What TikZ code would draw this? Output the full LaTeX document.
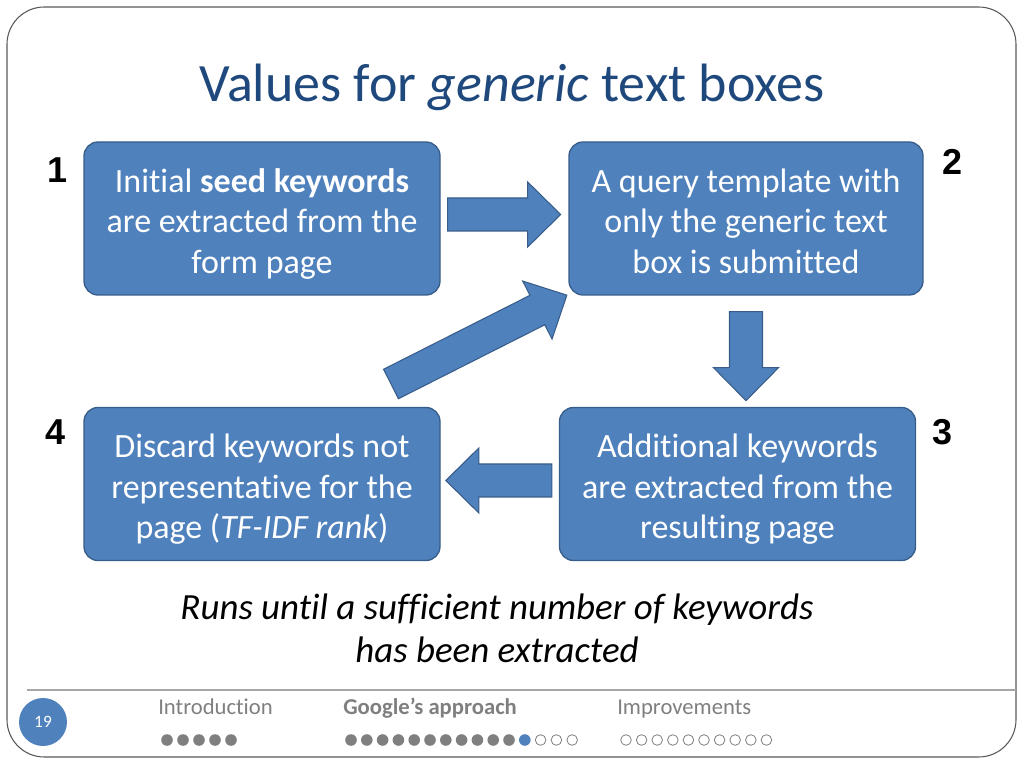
\documentclass[tikz,border=0pt]{standalone}
\usepackage{fontspec}
\setmainfont[Ligatures={NoCommon,NoContextual}]{Carlito}
\newfontfamily\numfont{Liberation Sans}
\usepackage{tikz}
\usetikzlibrary{calc}
\definecolor{blue500}{HTML}{4F81BD}
\definecolor{blue700}{HTML}{385D8A}
\definecolor{navy700}{HTML}{1F497D}
\definecolor{grey700}{HTML}{595959}
\definecolor{grey500}{HTML}{7F7F7F}
\definecolor{grey400}{HTML}{A6A6A6}
\tikzset{
  box/.style  ={draw=blue700, line width=1pt, fill=blue500,
                rounded corners=10.5pt, minimum width=267pt,
                minimum height=114.75pt, align=center, inner sep=0pt,
                text=white, font=\fontsize{25.5}{30.4}\selectfont,
                text height=88.5pt, text depth=6.5pt},
  num/.style  ={font=\numfont\bfseries\fontsize{27}{30}\selectfont,
                inner sep=0pt},
  ttl/.style  ={font=\fontsize{40.5}{46}\selectfont, text=navy700},
  note/.style ={font=\itshape\fontsize{27.7}{32.5}\selectfont, align=center},
  foot/.style ={font=\fontsize{17}{20}\selectfont, text=grey500,
                anchor=base west, inner sep=0pt},
  footb/.style={foot, font=\bfseries\fontsize{17}{20}\selectfont},
  pics/barrow/.style={code={
    \filldraw[draw=blue700, line width=0.8pt, fill=blue500]
      (0,-16.5) -- (#1-33,-16.5) -- (#1-33,-32.5) -- (#1,0)
      -- (#1-33,32.5) -- (#1-33,16.5) -- (0,16.5) -- cycle;}}
}

\begin{document}
\begin{tikzpicture}[x=0.75pt, y=0.75pt]
\useasboundingbox (0,0) rectangle (1024,768);
% slide frame and footer rule
\draw[grey700, line width=0.8pt, rounded corners=28pt] (7,11) rectangle (1016,761);
\draw[grey400, line width=0.8pt] (27,78) -- (1016,78);

\node[ttl] (title) at (512,681) {Values for \textit{generic} text boxes};

% the four steps, clockwise
\node[box] (seed) at (262,549.5)
  {Initial \textbf{seed keywords}\\ are extracted from the\\ form page};
\node[box, minimum width=265.5pt] (query) at (746,549.5)
  {A query template with\\ only the generic text\\ box is submitted};
\node[box] (extra) at (737.5,284)
  {Additional keywords\\ are extracted from the\\ resulting page};
\node[box] (discard) at (262,284)
  {Discard keywords not\\ representative for the\\ page (\textit{TF-IDF rank})};

\node[num] (n1) at (58,598) {1};
\node[num] (n2) at (952,606) {2};
\node[num] (n3) at (942,336) {3};
\node[num] (n4) at (56,336) {4};

% block arrows sit in the gaps between the boxes
\pic at ($(seed.east)+(7,4)$) {barrow=113};
\pic[rotate=-90] at ($(query.south)+(0,-16)$) {barrow=89};
\pic[rotate=180] at ($(extra.west)+(-7,3.5)$) {barrow=106};
\pic[rotate=26.8] at (391,384) {barrow=197};

\node[note] (loop) at (497,139.5)
  {Runs until a sufficient number of keywords\\ has been extracted};

% footer
\node[circle, fill=blue500, minimum size=36pt, inner sep=0pt, text=white,
      font=\fontsize{13}{15}\selectfont] (page) at (43,46) {19};
\node[foot]  (intro)  at (158,54) {Introduction};
\node[footb] (google) at (343,54) {Google’s approach};
\node[foot]  (impr)   at (617,54) {Improvements};
\foreach \i in {0,...,4} \fill[grey500] (167+16*\i,28) circle (5.8);
\foreach \i in {0,...,10} \fill[grey500] (351+15.8*\i,28) circle (5.8);
\fill[blue500] (351+15.8*11,28) circle (5.8);
\foreach \i in {12,13,14} \draw[grey500, line width=0.6pt] (351+15.8*\i,28) circle (5.3);
\foreach \i in {0,...,9} \draw[grey500, line width=0.6pt] (626+15.6*\i,28) circle (5.3);
\end{tikzpicture}
\end{document}
